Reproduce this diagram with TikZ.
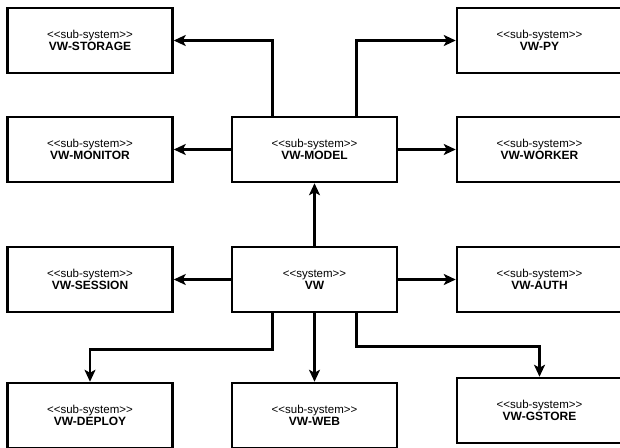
\documentclass[tikz,border=0pt]{standalone}
\usepackage{fontspec}
\setmainfont{Liberation Sans}
\usetikzlibrary{arrows.meta,calc}
\tikzset{
  box/.style={draw, line width=2.5pt, minimum width=165pt, minimum height=65pt, inner sep=0pt, align=center, fill=white},
  arr/.style={line width=2.5pt, -{Stealth[length=12pt,width=11pt,inset=3pt]}},
}
\newcommand{\bx}[2]{{\fontsize{11.5}{14}\selectfont <{}<#1>{}>}\\{\fontsize{12}{14}\selectfont\bfseries #2}}
\begin{document}
\begin{tikzpicture}[x=1pt,y=-1pt]
\useasboundingbox (0,0) rectangle (620,447);
\node[box] (storage) at (90,40.5) {\bx{sub-system}{VW-STORAGE}};
\node[box] (monitor) at (90,149.5) {\bx{sub-system}{VW-MONITOR}};
\node[box] (session) at (90,279.5) {\bx{sub-system}{VW-SESSION}};
\node[box] (deploy) at (90,415.5) {\bx{sub-system}{VW-DEPLOY}};
\node[box] (model) at (314.5,149.5) {\bx{sub-system}{VW-MODEL}};
\node[box] (vw) at (314.5,279.5) {\bx{system}{VW}};
\node[box] (web) at (314.5,415.5) {\bx{sub-system}{VW-WEB}};
\node[box] (py) at (539.5,40.5) {\bx{sub-system}{VW-PY}};
\node[box] (worker) at (539.5,149.5) {\bx{sub-system}{VW-WORKER}};
\node[box] (auth) at (539.5,279.5) {\bx{sub-system}{VW-AUTH}};
\node[box] (gstore) at (539.5,410.5) {\bx{sub-system}{VW-GSTORE}};

\coordinate (mA) at ($(model.north west)!0.25!(model.north east)$);
\coordinate (mB) at ($(model.north west)!0.75!(model.north east)$);
\coordinate (vA) at ($(vw.south west)!0.25!(vw.south east)$);
\coordinate (vB) at ($(vw.south west)!0.75!(vw.south east)$);
\coordinate (dA) at ($(vA)+(0,36)$);
\coordinate (dB) at ($(vB)+(0,33)$);

\draw[arr] (mA) |- (storage.east);
\draw[arr] (mB) |- (py.west);
\draw[arr] (model.west) -- (monitor.east);
\draw[arr] (model.east) -- (worker.west);
\draw[arr] (vw.north) -- (model.south);
\draw[arr] (vw.west) -- (session.east);
\draw[arr] (vw.east) -- (auth.west);
\draw[arr] (vA) -- (dA) -| (deploy.north);
\draw[arr] (vw.south) -- (web.north);
\draw[arr] (vB) -- (dB) -| (gstore.north);
\end{tikzpicture}
\end{document}
